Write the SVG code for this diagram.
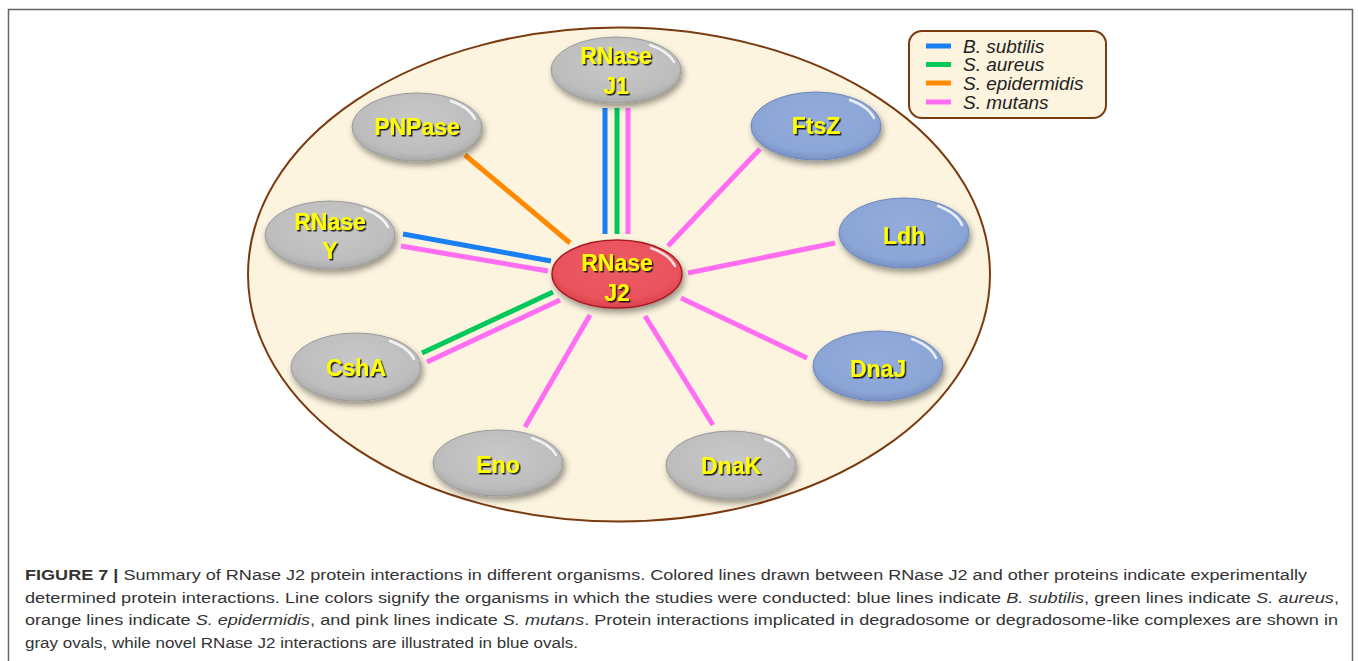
<svg xmlns="http://www.w3.org/2000/svg" width="1358" height="661" viewBox="0 0 1358 661">
<defs>
<radialGradient id="gGray" cx="0.5" cy="0.4" r="0.6">
<stop offset="0" stop-color="#c8c8c8"/><stop offset="0.8" stop-color="#bdbdbd"/><stop offset="1" stop-color="#a9a9a9"/>
</radialGradient>
<radialGradient id="gBlue" cx="0.5" cy="0.4" r="0.6">
<stop offset="0" stop-color="#94acdb"/><stop offset="0.8" stop-color="#8aa5d6"/><stop offset="1" stop-color="#7891c4"/>
</radialGradient>
<radialGradient id="gRed" cx="0.5" cy="0.4" r="0.6">
<stop offset="0" stop-color="#ee5c66"/><stop offset="0.8" stop-color="#e8525c"/><stop offset="1" stop-color="#d8424c"/>
</radialGradient>
<filter id="sh" x="-20%" y="-20%" width="150%" height="160%">
<feDropShadow dx="2" dy="4" stdDeviation="3" flood-color="#000" flood-opacity="0.4"/>
</filter>
<filter id="tsh" x="-10%" y="-10%" width="130%" height="140%">
<feDropShadow dx="1.5" dy="1.5" stdDeviation="0.6" flood-color="#000" flood-opacity="0.85"/>
</filter>
</defs>
<style>
.node-gray{fill:url(#gGray);stroke:#9a9a9a;stroke-width:1}
.node-blue{fill:url(#gBlue);stroke:#6f86b8;stroke-width:1}
.node-red{fill:url(#gRed);stroke:#a81820;stroke-width:1.5}
.hl{fill:none;stroke:#fff;stroke-width:2.5;stroke-opacity:0.8;stroke-linecap:round}
.lbl{font-family:"Liberation Sans",Arial,sans-serif;font-weight:bold;font-size:23px;fill:#ffff00;text-anchor:middle;filter:url(#tsh)}
.c{stroke-width:5;fill:none}
.blue{stroke:#1a7ff2}
.green{stroke:#00c95a}
.orange{stroke:#ff8a00}
.pink{stroke:#ff6ef2}
.leg{font-family:"Liberation Sans",Arial,sans-serif;font-style:italic;font-size:19px;fill:#222}
.cap{font-family:"Liberation Sans",Arial,sans-serif;font-size:15.5px;fill:#333}
</style>
<rect x="0" y="0" width="1358" height="661" fill="#fff"/>
<path d="M8.5 661 V9.5 H1352.5 V661" fill="none" stroke="#666" stroke-width="1.5"/>
<ellipse id="cell" cx="619" cy="274.5" rx="371" ry="247" fill="#fcf4df" stroke="#7a3a10" stroke-width="2"/>

<g id="connectors">
<line class="c blue" x1="605" y1="108" x2="605" y2="234"/>
<line class="c green" x1="617" y1="108" x2="617" y2="234"/>
<line class="c pink" x1="628" y1="108" x2="628" y2="234"/>
<line class="c orange" x1="465" y1="155" x2="570" y2="243"/>
<line class="c pink" x1="760" y1="149" x2="668" y2="246"/>
<line class="c blue" x1="403" y1="234" x2="551" y2="261"/>
<line class="c pink" x1="401" y1="246" x2="548" y2="271"/>
<line class="c green" x1="422" y1="353" x2="553" y2="292"/>
<line class="c pink" x1="427" y1="362" x2="560" y2="300"/>
<line class="c pink" x1="525" y1="427" x2="590" y2="315"/>
<line class="c pink" x1="645" y1="316" x2="713" y2="425"/>
<line class="c pink" x1="681" y1="298" x2="807" y2="358"/>
<line class="c pink" x1="688" y1="273" x2="835" y2="243"/>
</g>

<g id="node-j1" filter="url(#sh)">
<ellipse class="node-gray" cx="616" cy="70" rx="65" ry="33"/>
<path class="hl" d="M650 45 A61 30 0 0 1 674 62"/>
<text class="lbl" x="616" y="64">RNase</text><text class="lbl" x="616" y="94">J1</text>
</g>
<g id="node-pnpase" filter="url(#sh)">
<ellipse class="node-gray" cx="417" cy="127" rx="65" ry="34"/>
<path class="hl" d="M451 101 A61 31 0 0 1 475 119"/>
<text class="lbl" x="417" y="135">PNPase</text>
</g>
<g id="node-ftsz" filter="url(#sh)">
<ellipse class="node-blue" cx="816" cy="126" rx="65" ry="34"/>
<path class="hl" d="M850 100 A61 31 0 0 1 874 118"/>
<text class="lbl" x="816" y="134">FtsZ</text>
</g>
<g id="node-rnasey" filter="url(#sh)">
<ellipse class="node-gray" cx="330" cy="235" rx="65" ry="34"/>
<path class="hl" d="M364 209 A61 31 0 0 1 388 227"/>
<text class="lbl" x="330" y="230">RNase</text><text class="lbl" x="330" y="259">Y</text>
</g>
<g id="node-ldh" filter="url(#sh)">
<ellipse class="node-blue" cx="904" cy="233" rx="65" ry="35"/>
<path class="hl" d="M938 206 A61 32 0 0 1 962 225"/>
<text class="lbl" x="904" y="244">Ldh</text>
</g>
<g id="node-j2" filter="url(#sh)">
<ellipse class="node-red" cx="617" cy="274" rx="65" ry="34"/>
<path class="hl" d="M651 248 A61 31 0 0 1 675 266" stroke-opacity="0.5"/>
<text class="lbl" x="617" y="271">RNase</text><text class="lbl" x="617" y="301">J2</text>
</g>
<g id="node-csha" filter="url(#sh)">
<ellipse class="node-gray" cx="356" cy="367" rx="65" ry="34"/>
<path class="hl" d="M390 341 A61 31 0 0 1 414 359"/>
<text class="lbl" x="356" y="376">CshA</text>
</g>
<g id="node-dnaj" filter="url(#sh)">
<ellipse class="node-blue" cx="878" cy="366" rx="65" ry="35"/>
<path class="hl" d="M912 339 A61 32 0 0 1 936 358"/>
<text class="lbl" x="878" y="377">DnaJ</text>
</g>
<g id="node-eno" filter="url(#sh)">
<ellipse class="node-gray" cx="498" cy="463" rx="65" ry="33"/>
<path class="hl" d="M532 438 A61 30 0 0 1 556 455"/>
<text class="lbl" x="498" y="473">Eno</text>
</g>
<g id="node-dnak" filter="url(#sh)">
<ellipse class="node-gray" cx="731" cy="465" rx="65" ry="34"/>
<path class="hl" d="M765 439 A61 31 0 0 1 789 457"/>
<text class="lbl" x="731" y="474">DnaK</text>
</g>

<g id="legend">
<rect x="909" y="31" width="197" height="87" rx="13" fill="#fcf4df" stroke="#7a3a10" stroke-width="2"/>
<line class="c blue" x1="926" y1="46" x2="951" y2="46"/>
<line class="c green" x1="926" y1="64.5" x2="951" y2="64.5"/>
<line class="c orange" x1="926" y1="83" x2="951" y2="83"/>
<line class="c pink" x1="926" y1="102" x2="951" y2="102"/>
<text class="leg" x="963" y="52.5">B. subtilis</text>
<text class="leg" x="963" y="71">S. aureus</text>
<text class="leg" x="963" y="89.5">S. epidermidis</text>
<text class="leg" x="963" y="108.5">S. mutans</text>
</g>

<g id="caption">
<text class="cap" x="25" y="580" textLength="1282" lengthAdjust="spacingAndGlyphs"><tspan font-weight="bold">FIGURE 7 |</tspan> Summary of RNase J2 protein interactions in different organisms. Colored lines drawn between RNase J2 and other proteins indicate experimentally</text>
<text class="cap" x="25" y="602.5" textLength="1314" lengthAdjust="spacingAndGlyphs">determined protein interactions. Line colors signify the organisms in which the studies were conducted: blue lines indicate <tspan font-style="italic">B. subtilis</tspan>, green lines indicate <tspan font-style="italic">S. aureus</tspan>,</text>
<text class="cap" x="25" y="625" textLength="1313" lengthAdjust="spacingAndGlyphs">orange lines indicate <tspan font-style="italic">S. epidermidis</tspan>, and pink lines indicate <tspan font-style="italic">S. mutans</tspan>. Protein interactions implicated in degradosome or degradosome-like complexes are shown in</text>
<text class="cap" x="25" y="647.5" textLength="553" lengthAdjust="spacingAndGlyphs">gray ovals, while novel RNase J2 interactions are illustrated in blue ovals.</text>
</g>
</svg>
